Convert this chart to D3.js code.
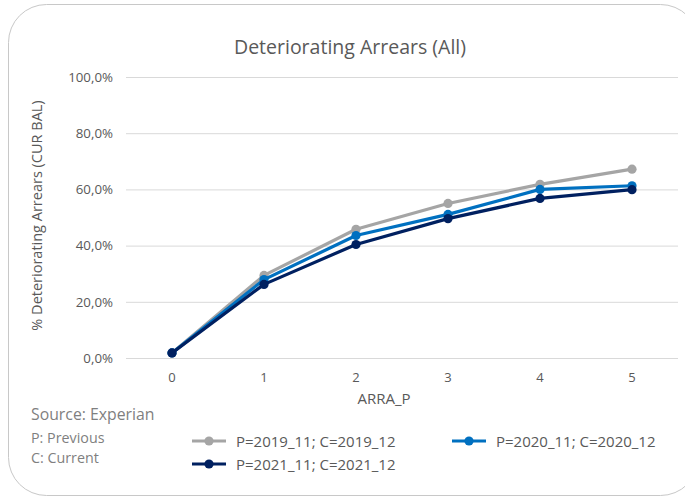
<!DOCTYPE html>
<html>
<head>
<meta charset="utf-8">
<script src="https://cdn.jsdelivr.net/npm/d3@7"></script>
<style>
  html, body { margin: 0; padding: 0; background: #fff; }
  svg { display: block; }
  text { font-family: "Open Sans", "Noto Sans", sans-serif; fill: #595959; }
</style>
</head>
<body>
<svg id="chart" width="685" height="497"></svg>
<script>
// Arrears buckets on the x axis
const categories = ["0", "1", "2", "3", "4", "5"];
// Share of balance deteriorating, per period pair
const series2019 = [0.018, 0.294, 0.458, 0.550, 0.618, 0.672];
const series2020 = [0.018, 0.279, 0.436, 0.511, 0.600, 0.613];
const series2021 = [0.018, 0.262, 0.404, 0.496, 0.568, 0.599];
const seriesNames = ["P=2019_11; C=2019_12", "P=2020_11; C=2020_12", "P=2021_11; C=2021_12"];
const yTicks = [0, 0.2, 0.4, 0.6, 0.8, 1.0];

const colors = ["#A5A5A5", "#0070C0", "#002060"];
const seriesValues = [series2019, series2020, series2021];

const svg = d3.select("#chart");

// Card outline
svg.append("rect")
  .attr("x", 8.5).attr("y", 4.5)
  .attr("width", 690).attr("height", 491)
  .attr("rx", 38).attr("ry", 38)
  .attr("fill", "#fff").attr("stroke", "#C8C8C8").attr("stroke-width", 1);

const plot = { left: 126, right: 678, top: 77, bottom: 358 };

const x = d3.scaleBand().domain(categories).range([plot.left, plot.right]);
const y = d3.scaleLinear().domain([0, 1]).range([plot.bottom, plot.top]);
const cx = d => x(d) + x.bandwidth() / 2;

const fmt = v => d3.format(".1f")(v * 100).replace(".", ",") + "%";

// Gridlines and y labels
const yAxis = d3.axisLeft(y).tickValues(yTicks).tickFormat(fmt)
  .tickSize(-(plot.right - plot.left)).tickPadding(13);
const gy = svg.append("g").attr("transform", `translate(${plot.left},0)`).call(yAxis);
gy.select(".domain").remove();
gy.selectAll(".tick line").attr("stroke", "#D9D9D9").attr("stroke-width", 1);
gy.selectAll(".tick text").attr("font-size", 13.3).attr("fill", "#595959")
  .style("font-family", "'Open Sans', sans-serif");

// X labels
const xAxis = d3.axisBottom(x).tickSize(0).tickPadding(15);
const gx = svg.append("g").attr("transform", `translate(0,${plot.bottom})`).call(xAxis);
gx.select(".domain").remove();
gx.selectAll(".tick text").attr("font-size", 13).attr("fill", "#595959")
  .style("font-family", "'Open Sans', sans-serif");

// Lines and markers
const line = d3.line().x((d, i) => cx(categories[i])).y(d => y(d));
seriesValues.forEach((vals, s) => {
  svg.append("path").datum(vals)
    .attr("d", line).attr("fill", "none")
    .attr("stroke", colors[s]).attr("stroke-width", 3.2)
    .attr("stroke-linejoin", "round").attr("stroke-linecap", "round");
  svg.append("g").selectAll("circle").data(vals).join("circle")
    .attr("cx", (d, i) => cx(categories[i])).attr("cy", d => y(d))
    .attr("r", 4.6).attr("fill", colors[s]);
});

// Titles
svg.append("text").attr("x", 350).attr("y", 54).attr("text-anchor", "middle")
  .attr("font-size", 19.5).text("Deteriorating Arrears (All)");
svg.append("text").attr("transform", `translate(42,${(plot.top + plot.bottom) / 2 - 2}) rotate(-90)`)
  .attr("text-anchor", "middle").attr("font-size", 14.5)
  .text("% Deteriorating Arrears (CUR BAL)");
svg.append("text").attr("x", 384).attr("y", 404).attr("text-anchor", "middle")
  .attr("font-size", 15).text("ARRA_P");

// Notes
const notes = svg.append("g").attr("fill", "#7F7F7F");
notes.append("text").attr("x", 31).attr("y", 420).attr("font-size", 15.8)
  .style("fill", "#7F7F7F").text("Source: Experian");
notes.append("text").attr("x", 31).attr("y", 443).attr("font-size", 14.3)
  .style("fill", "#7F7F7F").text("P: Previous");
notes.append("text").attr("x", 31).attr("y", 463).attr("font-size", 14.3)
  .style("fill", "#7F7F7F").text("C: Current");

// Legend
const legendPos = [[192, 441], [452, 441], [192, 464]];
seriesNames.forEach((name, s) => {
  const [lx, ly] = legendPos[s];
  const g = svg.append("g");
  g.append("line").attr("x1", lx).attr("x2", lx + 34).attr("y1", ly).attr("y2", ly)
    .attr("stroke", colors[s]).attr("stroke-width", 3.2);
  g.append("circle").attr("cx", lx + 17).attr("cy", ly).attr("r", 4.6).attr("fill", colors[s]);
  g.append("text").attr("x", lx + 44).attr("y", ly + 5.5).attr("font-size", 15).text(name);
});
</script>
</body>
</html>
